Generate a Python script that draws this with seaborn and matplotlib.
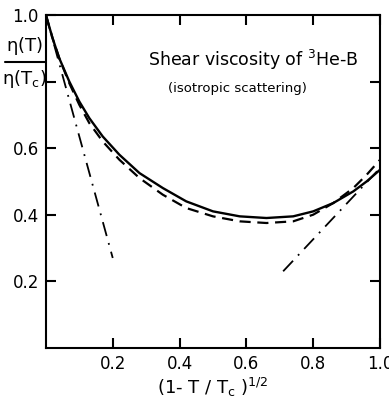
import numpy as np
import pandas as pd
import seaborn as sns
import matplotlib
matplotlib.use("Agg")
import matplotlib.pyplot as plt

# reduced temperature variable (1 - T/Tc)^1/2
x_curve = [0, 0.02, 0.04, 0.07, 0.10, 0.13, 0.17, 0.22, 0.28, 0.35,
           0.42, 0.50, 0.58, 0.66, 0.74, 0.80, 0.86, 0.92, 0.96, 1.0]
# full calculation (solid)
eta_solid = [1.0, 0.93, 0.87, 0.80, 0.74, 0.69, 0.635, 0.58, 0.525, 0.48,
             0.44, 0.41, 0.395, 0.39, 0.395, 0.41, 0.435, 0.47, 0.50, 0.535]
# approximation (dashed)
eta_dashed = [1.0, 0.93, 0.87, 0.795, 0.73, 0.675, 0.62, 0.565, 0.51, 0.46,
              0.42, 0.395, 0.38, 0.375, 0.38, 0.40, 0.435, 0.48, 0.52, 0.565]
# asymptotes (dash-dot)
x_low = [0.0, 0.2]
eta_low = [1.0, 0.27]
x_high = [0.71, 1.0]
eta_high = [0.23, 0.54]

xticks = [0.2, 0.4, 0.6, 0.8, 1.0]
xticklabels = ["0.2", "0.4", "0.6", "0.8", "1.0"]
yticks = [0.2, 0.4, 0.6, 0.8, 1.0]
yticklabels = ["0.2", "0.4", "0.6", "", "1.0"]

sns.set_style("ticks", {"axes.edgecolor": "black", "xtick.color": "black",
                        "ytick.color": "black", "text.color": "black",
                        "axes.labelcolor": "black"})
plt.rcParams['font.family'] = ['DejaVu Sans']

fig = plt.figure(figsize=(3.89, 4.04), dpi=100)
ax = fig.add_axes([0.118, 0.139, 0.859, 0.824])

sns.lineplot(x=x_curve, y=eta_solid, ax=ax, color="black", lw=1.7)
sns.lineplot(x=x_curve, y=eta_dashed, ax=ax, color="black", lw=1.6,
             linestyle=(0, (5, 3)))
sns.lineplot(x=x_low, y=eta_low, ax=ax, color="black", lw=1.3,
             linestyle=(0, (8, 4, 1, 4)))
sns.lineplot(x=x_high, y=eta_high, ax=ax, color="black", lw=1.3,
             linestyle=(0, (8, 4, 1, 4)))

ax.set_xlim(0, 1.0)
ax.set_ylim(0, 1.0)
ax.set_xticks(xticks)
ax.set_xticklabels(xticklabels)
ax.set_yticks(yticks)
ax.set_yticklabels(yticklabels)
ax.tick_params(direction="in", length=7, width=1.5, top=True, right=True,
               labelsize=12, pad=5, colors="black")
for s in ax.spines.values():
    s.set_linewidth(1.5)
    s.set_color("black")

ax.set_xlabel(r"(1- T / T$_\mathregular{c}$ )$^\mathregular{1/2}$", fontsize=13,
              labelpad=2, color="black")
ax.set_ylabel("")

ax.text(0.305, 0.865, r"Shear viscosity of $^\mathregular{3}$He-B", fontsize=12.5,
        va="center", ha="left", color="black")
ax.text(0.365, 0.78, "(isotropic scattering)", fontsize=9.5, va="center", ha="left",
        color="black")

# fraction style y label
fig.text(0.062, 0.885, r"$\mathregular{\eta(T)}$", fontsize=13, ha="center", va="center",
         color="black")
fig.add_artist(plt.Line2D([0.012, 0.118], [0.847, 0.847], color="black", lw=1.5,
                          transform=fig.transFigure))
fig.text(0.062, 0.805, r"$\mathregular{\eta(T_c)}$", fontsize=13, ha="center", va="center",
         color="black")

fig.savefig("out.png", dpi=100)
